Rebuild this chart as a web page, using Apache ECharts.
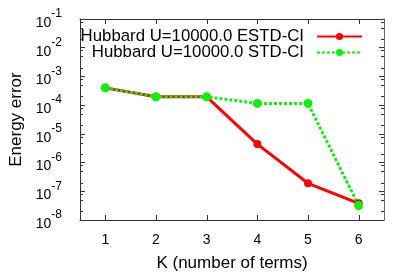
<!DOCTYPE html>
<html><head><meta charset="utf-8">
<script src="https://cdn.jsdelivr.net/npm/echarts@6/dist/echarts.min.js"></script>
<style>html,body{margin:0;padding:0;background:#fff}#c{width:415px;height:277px}</style>
</head><body><div id="c"></div>
<script>
const categories = [1, 2, 3, 4, 5, 6];
const estdName = 'Hubbard U=10000.0 ESTD-CI';
const stdName = 'Hubbard U=10000.0 STD-CI';
const estdValues = [4.0e-4, 1.95e-4, 1.95e-4, 4.4e-6, 1.9e-7, 3.8e-8];
const stdValues = [4.0e-4, 1.95e-4, 1.95e-4, 1.15e-4, 1.15e-4, 3.2e-8];
const yMin = 1e-8, yMax = 1e-1;
const minorMultipliers = [2, 5, 8];
const minorTicks = [];
for (let e = -8; e < -1; e++) for (const m of minorMultipliers) minorTicks.push(m * Math.pow(10, e));

const font = 'Liberation Sans, Arial, Helvetica, sans-serif';
const axisColor = '#333';
const chart = echarts.init(document.getElementById('c'), null, {renderer: 'canvas'});
const supMap = v => {
  const e = Math.round(Math.log10(v));
  return '{b|10}{s|' + e + '}';
};
const legendText = {fontFamily: font, fontSize: 16.8, color: '#000', padding: [0, 8, 0, 0]};
chart.setOption({
  animation: false,
  grid: {left: 74, right: 31, top: 19, bottom: 53, containLabel: false},
  legend: [
    {data: [estdName], right: 47, top: 23, orient: 'vertical', align: 'right', itemWidth: 45, itemHeight: 9,
     textStyle: legendText, selectedMode: false},
    {data: [stdName], right: 47, top: 39, orient: 'vertical', align: 'right', itemWidth: 45, itemHeight: 9,
     textStyle: legendText, selectedMode: false}
  ],
  xAxis: [
    {type: 'value', min: 0.5, max: 6.5, position: 'bottom',
     name: 'K (number of terms)', nameLocation: 'middle', nameGap: 35, nameMoveOverlap: false,
     nameTextStyle: {fontFamily: font, fontSize: 17, color: '#000'},
     axisLine: {show: true, onZero: false, lineStyle: {color: axisColor, width: 1}},
     axisTick: {show: false},
     axisLabel: {fontFamily: font, fontSize: 14, color: '#000', margin: 13, customValues: categories},
     splitLine: {show: false}},
    {type: 'value', min: 0.5, max: 6.5, position: 'top',
     axisLine: {show: true, onZero: false, lineStyle: {color: axisColor, width: 1}},
     axisTick: {show: false}, axisLabel: {show: false}, splitLine: {show: false}}
  ],
  yAxis: [
    {type: 'log', logBase: 10, min: yMin, max: yMax, interval: 1, position: 'left',
     name: 'Energy error', nameLocation: 'middle', nameGap: 55, nameRotate: 90, nameMoveOverlap: false,
     nameTextStyle: {fontFamily: font, fontSize: 17, color: '#000'},
     axisLine: {show: true, lineStyle: {color: axisColor, width: 1}},
     axisTick: {show: true, inside: true, length: 5, lineStyle: {color: axisColor, width: 1}},
     axisLabel: {margin: 18, formatter: supMap,
       rich: {b: {fontFamily: font, fontSize: 14, color: '#000', lineHeight: 22, verticalAlign: 'bottom'},
              s: {fontFamily: font, fontSize: 12, color: '#000', lineHeight: 22, verticalAlign: 'top'}}},
     splitLine: {show: false}},
    {type: 'log', logBase: 10, min: yMin, max: yMax, interval: 1, position: 'right',
     axisLine: {show: true, lineStyle: {color: '#666', width: 1}},
     axisTick: {show: true, inside: true, length: 5, lineStyle: {color: axisColor, width: 1}},
     axisLabel: {show: false}, splitLine: {show: false}}
  ],
  series: [
    {name: estdName, type: 'line', data: categories.map((k, i) => [k, estdValues[i]]), xAxisIndex: 0, yAxisIndex: 0,
     symbol: 'circle', symbolSize: 8, color: '#ff0000',
     lineStyle: {color: '#ff0000', width: 3}, itemStyle: {color: '#ff0000'}},
    {name: stdName, type: 'line', data: categories.map((k, i) => [k, stdValues[i]]), xAxisIndex: 0, yAxisIndex: 0,
     symbol: 'circle', symbolSize: 9, color: '#11ee11',
     lineStyle: {color: '#11ee11', width: 3, type: [3, 2]}, itemStyle: {color: '#11ee11'}}
  ]
});

// Tick marks derived from the axes' own scales
const yBottom = chart.convertToPixel({yAxisIndex: 0}, yMin);
const yTop = chart.convertToPixel({yAxisIndex: 0}, yMax);
const xLeft = chart.convertToPixel({xAxisIndex: 0}, 0.5);
const xRight = chart.convertToPixel({xAxisIndex: 0}, 6.5);
const tickStyle = {stroke: axisColor, lineWidth: 1};
const graphics = [];
categories.forEach(k => {
  const x = Math.round(chart.convertToPixel({xAxisIndex: 0}, k)) + 0.5;
  graphics.push({type: 'line', silent: true, shape: {x1: x, y1: yBottom, x2: x, y2: yBottom - 5}, style: tickStyle});
  graphics.push({type: 'line', silent: true, shape: {x1: x, y1: yTop, x2: x, y2: yTop + 5}, style: tickStyle});
});
minorTicks.forEach(v => {
  const y = Math.round(chart.convertToPixel({yAxisIndex: 0}, v)) + 0.5;
  graphics.push({type: 'line', silent: true, shape: {x1: xLeft, y1: y, x2: xLeft + 3, y2: y}, style: tickStyle});
  graphics.push({type: 'line', silent: true, shape: {x1: xRight, y1: y, x2: xRight - 3, y2: y}, style: tickStyle});
});
chart.setOption({graphic: graphics});
</script></body></html>
